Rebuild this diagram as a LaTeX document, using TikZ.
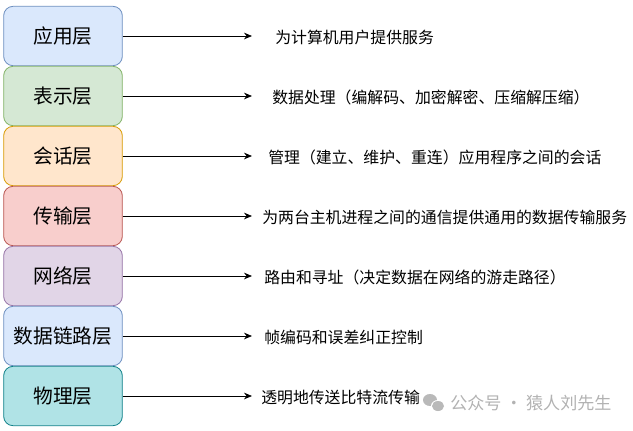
\documentclass[tikz,border=0pt]{standalone}
\usepackage{fontspec}
\newfontfamily\cjk{Noto Sans CJK SC}
\usepackage{tikz}
\usetikzlibrary{arrows.meta}

\definecolor{blueF}{HTML}{DAE8FC}\definecolor{blueD}{HTML}{6C8EBF}
\definecolor{greenF}{HTML}{D5E8D4}\definecolor{greenD}{HTML}{82B366}
\definecolor{orangeF}{HTML}{FFE6CC}\definecolor{orangeD}{HTML}{D79B00}
\definecolor{redF}{HTML}{F8CECC}\definecolor{redD}{HTML}{B85450}
\definecolor{purpleF}{HTML}{E1D5E7}\definecolor{purpleD}{HTML}{9673A6}
\definecolor{tealF}{HTML}{B0E3E6}\definecolor{tealD}{HTML}{0E8088}

\tikzset{
  layer/.style={draw=#1D, fill=#1F, line width=0.6pt, rounded corners=7pt,
    minimum width=89pt, minimum height=44.5pt, inner sep=0pt,
    font=\cjk\fontsize{14.8}{16}\selectfont},
  duty/.style={anchor=west, inner sep=0pt, font=\cjk\fontsize{11.9}{13}\selectfont},
  link/.style={-{Stealth[length=6pt,width=5pt]}, line width=0.6pt}
}

\begin{document}
\begin{tikzpicture}[x=0.75pt, y=-0.75pt]
  \useasboundingbox (0,0) rectangle (633,430);

  % Layers
  \node[layer=blue]   (app)  at (63,36)  {应用层};
  \node[layer=green]  (pre)  at (63,96)  {表示层};
  \node[layer=orange] (ses)  at (63,156) {会话层};
  \node[layer=red]    (tra)  at (63,216) {传输层};
  \node[layer=purple] (net)  at (63,276) {网络层};
  \node[layer=blue]   (dat)  at (63,336) {数据链路层};
  \node[layer=teal]   (phy)  at (63,396) {物理层};

  % Arrow ends
  \coordinate (appE) at (252,36);
  \coordinate (preE) at (252,96);
  \coordinate (sesE) at (252,156);
  \coordinate (traE) at (252,216);
  \coordinate (netE) at (252,276);
  \coordinate (datE) at (252,336);
  \coordinate (phyE) at (252,396);
  \draw[link] (app) -- (appE);
  \draw[link] (pre) -- (preE);
  \draw[link] (ses) -- (sesE);
  \draw[link] (tra) -- (traE);
  \draw[link] (net) -- (netE);
  \draw[link] (dat) -- (datE);
  \draw[link] (phy) -- (phyE);

  % Descriptions
  \node[duty] (appT) at (275,37)  {为计算机用户提供服务};
  \node[duty] (preT) at (272,97)  {数据处理（编解码、加密解密、压缩解压缩）};
  \node[duty] (sesT) at (268,157) {管理（建立、维护、重连）应用程序之间的会话};
  \node[duty] (traT) at (262,217) {为两台主机进程之间的通信提供通用的数据传输服务};
  \node[duty] (netT) at (264,277) {路由和寻址（决定数据在网络的游走路径）};
  \node[duty] (datT) at (264,337) {帧编码和误差纠正控制};
  \node[duty] (phyT) at (261,397) {透明地传送比特流传输};

  % Watermark
  \fill[gray!55] (430,400) ellipse (7 and 6);
  \fill[white] (438,406) ellipse (7 and 6);
  \fill[gray!55] (438,406) ellipse (6 and 5);
  \node[anchor=west, inner sep=0pt, text=gray!60,
    font=\cjk\fontsize{12.8}{14}\selectfont] (mark) at (450,403) {公众号 · 猿人刘先生};
\end{tikzpicture}
\end{document}
